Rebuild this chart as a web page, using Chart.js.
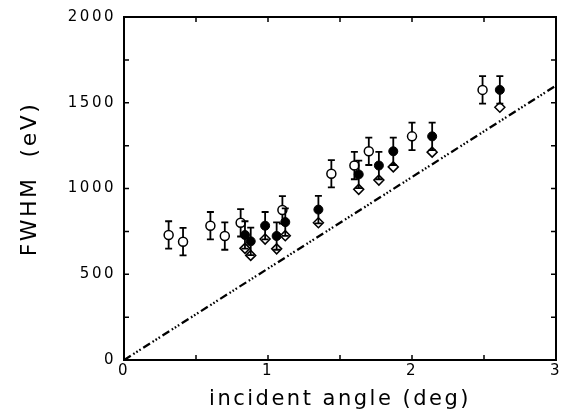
<!DOCTYPE html>
<html>
<head>
<meta charset="utf-8">
<script src="https://cdn.jsdelivr.net/npm/chart.js@4.4.0/dist/chart.umd.min.js"></script>
<style>
  html, body { margin: 0; padding: 0; background: #fff; }
  #wrap { width: 571px; height: 419px; }
</style>
</head>
<body>
<div id="wrap"><canvas id="fwhmChart" width="571" height="419"></canvas></div>
<script>
// open circles
const openX = [0.31, 0.41, 0.60, 0.70, 0.81, 1.10, 1.44, 1.60, 1.70, 2.00, 2.49];
const openY = [729, 690, 783, 723, 800, 875, 1086, 1134, 1217, 1304, 1575];
// filled circles
const filledX = [0.84, 0.88, 0.98, 1.06, 1.12, 1.35, 1.63, 1.77, 1.87, 2.14, 2.61];
const filledY = [729, 692, 783, 723, 804, 877, 1082, 1134, 1217, 1304, 1575];
// open diamonds (same angles as filled)
const diamondY = [651, 610, 705, 648, 725, 800, 995, 1049, 1126, 1212, 1474];
// error bar half width (eV)
const openErr = [80, 80, 80, 80, 80, 80, 80, 80, 80, 80, 80];
const filledErr = [80, 80, 80, 80, 80, 80, 80, 80, 80, 80, 80];
// dash-dot reference line
const lineX = [0, 3];
const lineY = [0, 1600];

const xTickLabels = [0, 1, 2, 3];
const yTickLabels = [0, 500, 1000, 1500, 2000];

const pts = (xs, ys) => xs.map((x, i) => ({ x: x, y: ys[i] }));

// error bars, drawn outside the marker
const errorBars = {
  id: 'errorBars',
  afterDatasetsDraw(chart) {
    const ctx = chart.ctx;
    const xs = chart.scales.x, ys = chart.scales.y;
    const sets = [[openX, openY, openErr, 4], [filledX, filledY, filledErr, 4]];
    ctx.save();
    ctx.strokeStyle = '#000';
    ctx.lineWidth = 1.8;
    sets.forEach(([X, Y, E, r]) => {
      X.forEach((xv, i) => {
        const px = xs.getPixelForValue(xv);
        const py = ys.getPixelForValue(Y[i]);
        const top = ys.getPixelForValue(Y[i] + E[i]);
        const bot = ys.getPixelForValue(Y[i] - E[i]);
        ctx.beginPath();
        ctx.moveTo(px, top); ctx.lineTo(px, py - r);
        ctx.moveTo(px, py + r); ctx.lineTo(px, bot);
        ctx.moveTo(px - 3.5, top); ctx.lineTo(px + 3.5, top);
        ctx.moveTo(px - 3.5, bot); ctx.lineTo(px + 3.5, bot);
        ctx.stroke();
      });
    });
    ctx.restore();
  }
};

// frame with inward ticks on all four sides
const frame = {
  id: 'frame',
  beforeDraw(chart) {
    chart.ctx.letterSpacing = '2.5px';
  },
  afterDraw(chart) {
    const ctx = chart.ctx;
    const a = chart.chartArea;
    const xs = chart.scales.x, ys = chart.scales.y;
    ctx.save();
    ctx.strokeStyle = '#000';
    ctx.lineWidth = 2;
    ctx.strokeRect(a.left, a.top, a.right - a.left, a.bottom - a.top);
    ctx.lineWidth = 1.5;
    ctx.beginPath();
    xs.ticks.forEach(t => {
      const p = xs.getPixelForValue(t.value);
      ctx.moveTo(p, a.bottom); ctx.lineTo(p, a.bottom - 5);
      ctx.moveTo(p, a.top); ctx.lineTo(p, a.top + 5);
    });
    ys.ticks.forEach(t => {
      const p = ys.getPixelForValue(t.value);
      ctx.moveTo(a.left, p); ctx.lineTo(a.left + 5, p);
      ctx.moveTo(a.right, p); ctx.lineTo(a.right - 5, p);
    });
    ctx.stroke();
    ctx.restore();
  }
};

new Chart(document.getElementById('fwhmChart'), {
  type: 'scatter',
  data: {
    datasets: [
      {
        type: 'line',
        data: pts(lineX, lineY),
        borderColor: '#000',
        borderWidth: 2.3,
        borderDash: [8, 3, 1.6, 2, 1.6, 2, 1.6, 3],
        pointRadius: 0,
        fill: false
      },
      {
        data: pts(openX, openY),
        pointStyle: 'circle',
        pointRadius: 4.5,
        backgroundColor: '#fff',
        borderColor: '#000',
        borderWidth: 1.5
      },
      {
        data: pts(filledX, diamondY),
        pointStyle: 'rectRot',
        pointRadius: 5,
        backgroundColor: '#fff',
        borderColor: '#000',
        borderWidth: 1.5
      },
      {
        data: pts(filledX, filledY),
        pointStyle: 'circle',
        pointRadius: 4.5,
        backgroundColor: '#000',
        borderColor: '#000',
        borderWidth: 1
      }
    ]
  },
  options: {
    responsive: false,
    animation: false,
    layout: { padding: { top: 15, right: 15, left: 0, bottom: 0 } },
    plugins: { legend: { display: false }, tooltip: { enabled: false } },
    scales: {
      x: {
        type: 'linear',
        min: 0, max: 3,
        grid: { display: false, drawTicks: false },
        border: { display: false },
        ticks: {
          stepSize: 0.5,
          autoSkip: false,
          maxRotation: 0,
          padding: 2,
          color: '#000',
          font: { family: 'DejaVu Sans', size: 15 },
          callback: v => xTickLabels.includes(v) ? String(v) : ''
        },
        title: {
          display: true,
          text: 'incident angle (deg)',
          color: '#000',
          font: { family: 'DejaVu Sans', size: 21 },
          padding: { top: 0, bottom: 7 }
        },
        afterFit: s => { s.height = 59; }
      },
      y: {
        min: 0, max: 2000,
        grid: { display: false, drawTicks: false },
        border: { display: false },
        ticks: {
          stepSize: 250,
          autoSkip: false,
          padding: 8,
          color: '#000',
          font: { family: 'DejaVu Sans', size: 15 },
          callback: v => yTickLabels.includes(v) ? String(v) : ''
        },
        title: {
          display: true,
          text: '  FWHM  (eV)',
          color: '#000',
          font: { family: 'DejaVu Sans', size: 22 },
          padding: { top: 17, bottom: 0 }
        },
        afterFit: s => { s.width = 124; }
      }
    }
  },
  plugins: [errorBars, frame]
});
</script>
</body>
</html>
